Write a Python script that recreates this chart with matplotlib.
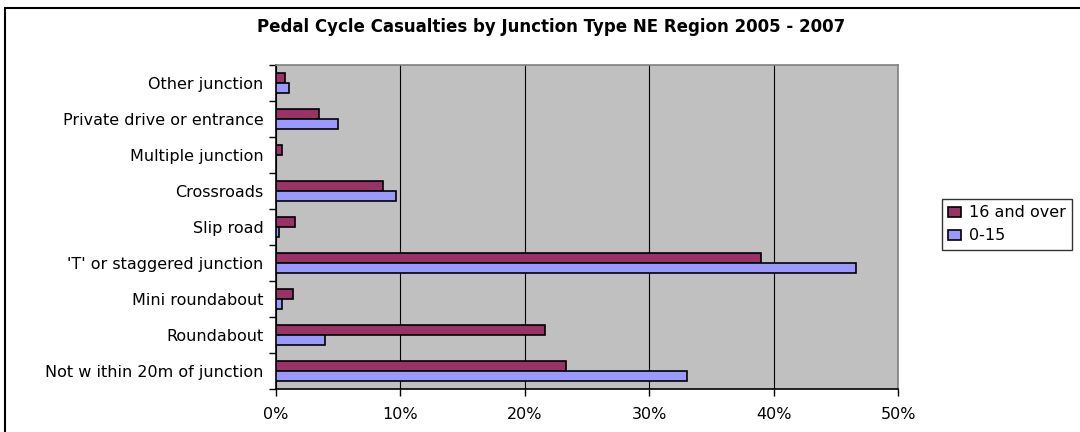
import matplotlib.pyplot as plt
import numpy as np
from matplotlib.patches import Rectangle

plt.rcParams['font.family'] = ['DejaVu Sans']

# categories listed bottom to top
categories = ["Not w ithin 20m of junction", "Roundabout", "Mini roundabout",
              "'T' or staggered junction", "Slip road", "Crossroads",
              "Multiple junction", "Private drive or entrance", "Other junction"]
over_16 = [23.3, 21.6, 1.35, 39.0, 1.5, 8.6, 0.47, 3.45, 0.72]
age_0_15 = [33.0, 3.9, 0.47, 46.6, 0.27, 9.65, 0.0, 5.0, 1.05]

fig = plt.figure(figsize=(10.8, 4.32), dpi=100)
ax = fig.add_axes([276 / 1080, 1 - 389 / 432, (898 - 276) / 1080, (389 - 65) / 432])

y = np.arange(len(categories))
h = 0.28
ax.barh(y + h / 2, over_16, height=h, color="#993366", edgecolor="black", linewidth=1.2,
        label="16 and over", zorder=3)
ax.barh(y - h / 2, age_0_15, height=h, color="#9999FF", edgecolor="black", linewidth=1.2,
        label="0-15", zorder=3)

ax.set_facecolor("#C0C0C0")
ax.set_xlim(0, 50)
ax.set_ylim(-0.5, len(categories) - 0.5)
ax.set_xticks([0, 10, 20, 30, 40, 50])
ax.set_xticklabels([f"{v}%" for v in [0, 10, 20, 30, 40, 50]], fontsize=11.5)
ax.xaxis.grid(True, color="black", linewidth=0.8, zorder=0)

# labels centred on categories, tick marks between them
ax.set_yticks(y)
ax.set_yticklabels(categories, fontsize=11.5)
ax.tick_params(axis="y", length=0, pad=9)
ax.set_yticks(np.arange(-0.5, len(categories)), minor=True)
ax.tick_params(axis="y", which="minor", length=5, width=1)
ax.tick_params(axis="x", length=5, width=1, pad=8)

for s in ["left", "bottom"]:
    ax.spines[s].set_color("black")
    ax.spines[s].set_linewidth(1.2)
for s in ["top", "right"]:
    ax.spines[s].set_color("#808080")
    ax.spines[s].set_linewidth(1.2)

fig.text(551 / 1080, 1 - 27 / 432, "Pedal Cycle Casualties by Junction Type NE Region 2005 - 2007",
         ha="center", va="center", fontsize=12, fontweight="bold")

leg = fig.legend(loc="upper left", bbox_to_anchor=(942 / 1080, 1 - 199 / 432),
                 fontsize=11.5, frameon=True, fancybox=False, handlelength=0.8,
                 handleheight=0.6, handletextpad=0.5, borderpad=0.4, labelspacing=0.5,
                 borderaxespad=0)
leg.get_frame().set_edgecolor("black")
leg.get_frame().set_linewidth(1)

# outer chart border
fig.patches.append(Rectangle((5 / 1080, -0.1), 1.2, 1 - 8 / 432 + 0.1, transform=fig.transFigure,
                             fill=False, edgecolor="black", linewidth=1.5))

fig.savefig("out.png", dpi=100)
